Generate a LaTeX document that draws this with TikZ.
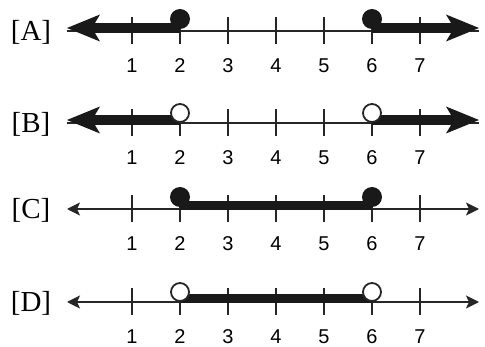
\documentclass[tikz,border=0pt]{standalone}
\usepackage{fontspec}
\setmainfont{Liberation Serif}
\setsansfont{Liberation Sans}
\usetikzlibrary{arrows.meta}

\begin{document}
\begin{tikzpicture}[x=1pt, y=-1pt,
    axis/.style={line width=1.6pt, draw=black!85},
    thinarr/.style={axis, {Stealth[length=13pt, width=13pt, inset=3pt]}-{Stealth[length=13pt, width=13pt, inset=3pt]}},
    ray/.style={line width=10pt, draw=black!90, -{Stealth[length=33pt, width=27pt, inset=8pt, line width=0pt]}},
    band/.style={line width=9pt, draw=black!90},
    dot/.style={circle, fill=black!90, inner sep=0pt, minimum size=20pt},
    hole/.style={circle, draw=black!85, fill=white, line width=1.8pt, inner sep=0pt, minimum size=18pt},
    num/.style={font=\sffamily\fontsize{20}{20}\selectfont, inner sep=0pt},
    tag/.style={font=\fontsize{29}{29}\selectfont, inner sep=0pt}
]
    \useasboundingbox (0,0) rectangle (485,347);

    % the four number lines with ticks and digits
    \foreach \r/\y in {A/31, B/123, C/209, D/302} {
        \node[tag] (tag\r) at (31,\y+1) {[\r]};
        \coordinate (\r-l) at (67,\y);
        \coordinate (\r-r) at (479,\y);
        \foreach \k in {1,...,7} {
            \coordinate (\r\k) at (84+48*\k,\y);
            \draw[axis] (\r\k) ++(0,-14) -- ++(0,27);
            \node[num] (\r-n\k) at ([yshift=-35pt]\r\k) {\k};
        }
    }

    % [A]
    \draw[axis] (A-l) -- (A-r);
    \draw[ray] ([yshift=3pt]A2) -- ([yshift=3pt]A-l);
    \draw[ray] ([yshift=3pt]A6) -- ([yshift=3pt]A-r);
    \node[dot] (A-d2) at ([yshift=12pt]A2) {};
    \node[dot] (A-d6) at ([yshift=12pt]A6) {};

    % [B]
    \draw[axis] (B-l) -- (B-r);
    \draw[ray] ([yshift=3pt]B2) -- ([yshift=3pt]B-l);
    \draw[ray] ([yshift=3pt]B6) -- ([yshift=3pt]B-r);
    \node[hole] (B-h2) at ([yshift=10pt]B2) {};
    \node[hole] (B-h6) at ([yshift=10pt]B6) {};

    % [C]
    \draw[thinarr] (C-l) -- (C-r);
    \draw[band] ([yshift=3pt]C2) -- ([yshift=3pt]C6);
    \node[dot] (C-d2) at ([yshift=12pt]C2) {};
    \node[dot] (C-d6) at ([yshift=12pt]C6) {};

    % [D]
    \draw[thinarr] (D-l) -- (D-r);
    \draw[band] ([yshift=3pt]D2) -- ([yshift=3pt]D6);
    \node[hole] (D-h2) at ([yshift=10pt]D2) {};
    \node[hole] (D-h6) at ([yshift=10pt]D6) {};
\end{tikzpicture}
\end{document}
